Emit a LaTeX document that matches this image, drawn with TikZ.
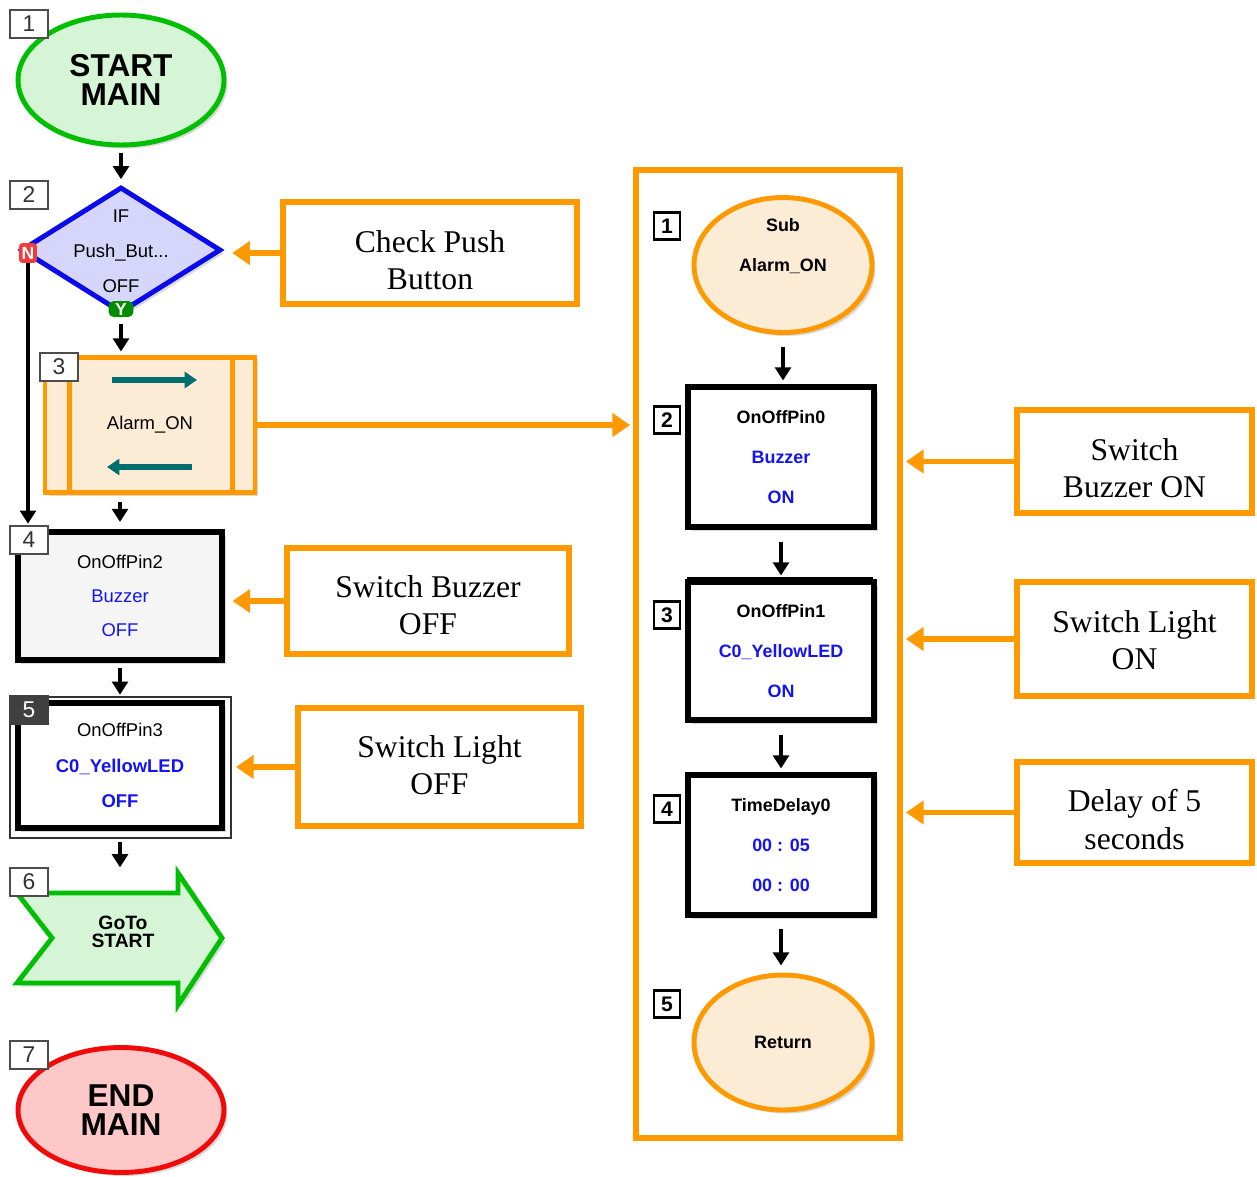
\documentclass[tikz,border=0pt]{standalone}
\usepackage{fontspec}
\setmainfont{Liberation Serif}
\setsansfont{Liberation Sans}
\usetikzlibrary{shapes.geometric,arrows.meta,calc,shadows}
\definecolor{sgreen}{RGB}{0,190,0}
\definecolor{lgreen}{RGB}{214,244,214}
\definecolor{dblue}{RGB}{10,10,235}
\definecolor{lblue}{RGB}{214,214,250}
\definecolor{org}{RGB}{255,153,0}
\definecolor{lorg}{RGB}{252,236,214}
\definecolor{rred}{RGB}{240,10,10}
\definecolor{lred}{RGB}{255,200,200}
\definecolor{tblue}{RGB}{20,20,240}
\definecolor{tealc}{RGB}{0,110,110}
\begin{document}
\begin{tikzpicture}[x=0.02cm,y=-0.02cm,
  shad/.style={drop shadow={shadow xshift=2pt,shadow yshift=-2pt,opacity=0.3}},
  farr/.style={-{Triangle[width=9pt,length=7.5pt]}, line width=2.2pt, draw=black},
  tarr/.style={-{Triangle[width=9pt,length=7pt]}, line width=3pt, draw=tealc},
  oarr/.style={-{Triangle[width=13pt,length=10pt]}, draw=org, line width=3pt},
  callout/.style={draw=org, line width=3.4pt, fill=white, inner sep=0pt},
  ctext/.style={font=\fontsize{18}{21.2}\selectfont, align=center, inner sep=0pt},
  numL/.style={draw=black!70, line width=0.6pt, fill=white, font=\sffamily\fontsize{13}{13}\selectfont, minimum width=0.76cm, minimum height=0.56cm, inner sep=0pt, text=black!80},
  numR/.style={draw=black, line width=1.2pt, fill=white, font=\sffamily\bfseries\fontsize{12}{12}\selectfont, minimum width=0.52cm, minimum height=0.54cm, inner sep=0pt},
  lbox/.style={draw=black, line width=3.4pt, minimum width=4.1cm, align=center, inner sep=0pt, shad},
  rbox/.style={draw=black, line width=3.4pt, fill=white, minimum width=3.72cm, minimum height=2.8cm, align=center, inner sep=0pt, shad, font=\sffamily\bfseries\fontsize{10.2}{22.7}\selectfont},
  sell/.style={ellipse, draw=org, line width=2.8pt, fill=lorg, minimum width=3.56cm, minimum height=2.7cm, inner sep=0pt, shad, align=center, font=\sffamily\bfseries\fontsize{10.2}{22.7}\selectfont}
]
\useasboundingbox (0,0) rectangle (1257,1176);

% ---------------- left column ----------------
\node[ellipse, draw=sgreen, line width=2.8pt, fill=lgreen, minimum width=4.12cm, minimum height=2.6cm, inner sep=0pt, shad, align=center, font=\sffamily\bfseries\fontsize{18}{16.5}\selectfont] (start) at (121,80) {START\\MAIN};
\node[numL] (n1) at (29,24) {1};

\node[diamond, draw=dblue, line width=2.8pt, fill=lblue, minimum width=4cm, minimum height=2.52cm, inner sep=0pt, shad] (dia) at (121,250) {};
\node[align=center, inner sep=0pt, font=\sffamily\fontsize{10.5}{20}\selectfont] (diaT) at (121,251) {IF\\Push\_But...\\OFF};
\node[numL] (n2) at (29,195) {2};
\node[fill=rred!80, text=white, rounded corners=2pt, minimum width=0.36cm, minimum height=0.4cm, inner sep=0pt, font=\sffamily\bfseries\fontsize{10}{10}\selectfont] (nmk) at (28,253) {N};
\node[fill=sgreen!75!black, text=white, rounded corners=3pt, minimum width=0.5cm, minimum height=0.32cm, inner sep=0pt, font=\sffamily\bfseries\fontsize{10}{10}\selectfont] (ymk) at (121,309) {Y};

\node[draw=org, line width=2.8pt, fill=lorg, minimum width=4.2cm, minimum height=2.7cm, inner sep=0pt, shad, font=\sffamily\fontsize{10.5}{12}\selectfont] (alarm) at (150,425) {Alarm\_ON};
\draw[org, line width=2.8pt] ($(alarm.north west)+(27,0)$) -- ($(alarm.south west)+(27,0)$);
\draw[org, line width=2.8pt] ($(alarm.north east)+(-25,0)$) -- ($(alarm.south east)+(-25,0)$);
\draw[tarr] ($(alarm)+(-38,-45)$) -- ($(alarm)+(47,-45)$);
\draw[tarr] ($(alarm)+(42,42)$) -- ($(alarm)+(-43,42)$);
\node[numL] (n3) at (59,367) {3};

\node[lbox, fill=black!4, minimum height=2.56cm, font=\sffamily\fontsize{10.5}{19.3}\selectfont] (b4) at (120,596) {OnOffPin2\\\textcolor{tblue}{Buzzer}\\\textcolor{tblue}{OFF}};
\node[numL] (n4) at (29,540) {4};

\draw[black!80, line width=0.8pt] (10,697) rectangle (231,838);
\node[lbox, fill=white, minimum height=2.5cm, font=\sffamily\fontsize{10.5}{20}\selectfont] (b5) at (120,765.5) {OnOffPin3\\\textcolor{tblue}{\bfseries C0\_YellowLED}\\\textcolor{tblue}{\bfseries OFF}};
\node[numL, fill=black!75, draw=black!75, text=white] (n5) at (29,710) {5};

\node[minimum width=4.1cm, minimum height=2.64cm, inner sep=0pt] (goto) at (119.5,939) {};
\draw[draw=sgreen, line width=2.8pt, fill=lgreen, line join=miter, shad] (17,893) -- (178,893) -- (178,873) -- (222,938) -- (178,1005) -- (178,983) -- (17,983) -- (52,938) -- cycle;
\node[align=center, inner sep=0pt, font=\sffamily\bfseries\fontsize{11}{10.5}\selectfont] (gotoT) at (123,932) {GoTo\\START};
\node[numL] (n6) at (29,882) {6};

\node[ellipse, draw=rred, line width=2.8pt, fill=lred, minimum width=4.12cm, minimum height=2.5cm, inner sep=0pt, shad, align=center, font=\sffamily\bfseries\fontsize{18}{16.5}\selectfont] (endm) at (121,1110) {END\\MAIN};
\node[numL] (n7) at (29,1055) {7};

% left flow arrows
\draw[farr, shorten <=3pt, shorten >=3pt] (start.south) -- (start.south |- dia.north);
\draw[farr, shorten <=5pt, shorten >=2pt] (dia.south) -- (dia.south |- alarm.north);
\draw[farr, shorten <=4pt, shorten >=4pt] (b4.north |- alarm.south) -- (b4.north);
\draw[farr, shorten <=3pt, shorten >=3pt] (b4.south) -- (b5.north);
\draw[farr, shorten <=6pt, shorten >=3pt] (b5.south) -- (b5.south |- goto.north);
\draw[farr, shorten >=3pt] (nmk.south) -- (nmk.south |- b4.north);

% ---------------- callouts left ----------------
\node[callout, minimum width=5.88cm, minimum height=2.04cm] (check) at (430,253) {};
\node[ctext] (checkT) at (430,260) {Check Push\\Button};
\node[callout, minimum width=5.64cm, minimum height=2.12cm] (sboff) at (428,601) {};
\node[ctext] (sboffT) at (428,605) {Switch Buzzer\\OFF};
\node[callout, minimum width=5.66cm, minimum height=2.36cm] (sloff) at (439.5,767) {};
\node[ctext] (sloffT) at (439.5,765.5) {Switch Light\\OFF};
\draw[oarr, shorten >=5pt] (check.west) -- (check.west -| dia.east);
\draw[oarr, shorten >=4pt] (sboff.west) -- (sboff.west -| b4.east);
\draw[oarr, shorten >=6pt] (sloff.west) -- (sloff.west -| b5.east);

% ---------------- subroutine ----------------
\node[draw=org, line width=3.4pt, minimum width=5.28cm, minimum height=19.36cm, inner sep=0pt] (cont) at (768,654) {};
\draw[oarr, shorten >=1.7pt] (alarm.east) -- (alarm.east -| cont.west);

\node[sell] (sub) at (783,265) {};
\node[align=center, inner sep=0pt, font=\sffamily\bfseries\fontsize{10.2}{22.7}\selectfont] (subT) at (783,246) {Sub\\Alarm\_ON};
\node[numR] (r1) at (667,226) {1};

\node[rbox] (s2) at (781,457) {OnOffPin0\\\textcolor{tblue}{Buzzer}\\\textcolor{tblue}{ON}};
\node[numR] (r2) at (667,420) {2};

\draw[black, line width=0.8pt] (687,578) -- (873,578);
\node[rbox, minimum height=2.76cm] (s3) at (781,651) {OnOffPin1\\\textcolor{tblue}{C0\_YellowLED}\\\textcolor{tblue}{ON}};
\node[numR] (r3) at (667,615) {3};

\node[rbox] (s4) at (781,845) {TimeDelay0\\\textcolor{tblue}{00 : 05}\\\textcolor{tblue}{00 : 00}};
\node[numR] (r4) at (667,809) {4};

\node[sell] (ret) at (783,1042.5) {Return};
\node[numR] (r5) at (667,1004) {5};

\draw[farr, shorten <=7pt, shorten >=2pt] (sub.south) -- (sub.south |- s2.north);
\draw[farr, shorten <=7pt, shorten >=2pt] (s2.south) -- (s2.south |- s3.north);
\draw[farr, shorten <=7pt, shorten >=2pt] (s3.south) -- (s3.south |- s4.north);
\draw[farr, shorten <=6pt, shorten >=4pt] (s4.south) -- (s4.south |- ret.north);

% ---------------- callouts right ----------------
\node[callout, minimum width=4.7cm, minimum height=2.06cm] (bon) at (1134.5,461.5) {};
\node[ctext] (bonT) at (1134.5,468.5) {Switch\\Buzzer ON};
\node[callout, minimum width=4.7cm, minimum height=2.28cm] (lon) at (1134.5,639) {};
\node[ctext] (lonT) at (1134.5,640.5) {Switch Light\\ON};
\node[callout, minimum width=4.7cm, minimum height=2.02cm] (dly) at (1134.5,812.5) {};
\node[ctext] (dlyT) at (1134.5,819.5) {Delay of 5\\seconds};
\draw[oarr, shorten >=1.7pt] (bon.west) -- (bon.west -| cont.east);
\draw[oarr, shorten >=1.7pt] (lon.west) -- (lon.west -| cont.east);
\draw[oarr, shorten >=1.7pt] (dly.west) -- (dly.west -| cont.east);
\end{tikzpicture}
\end{document}
